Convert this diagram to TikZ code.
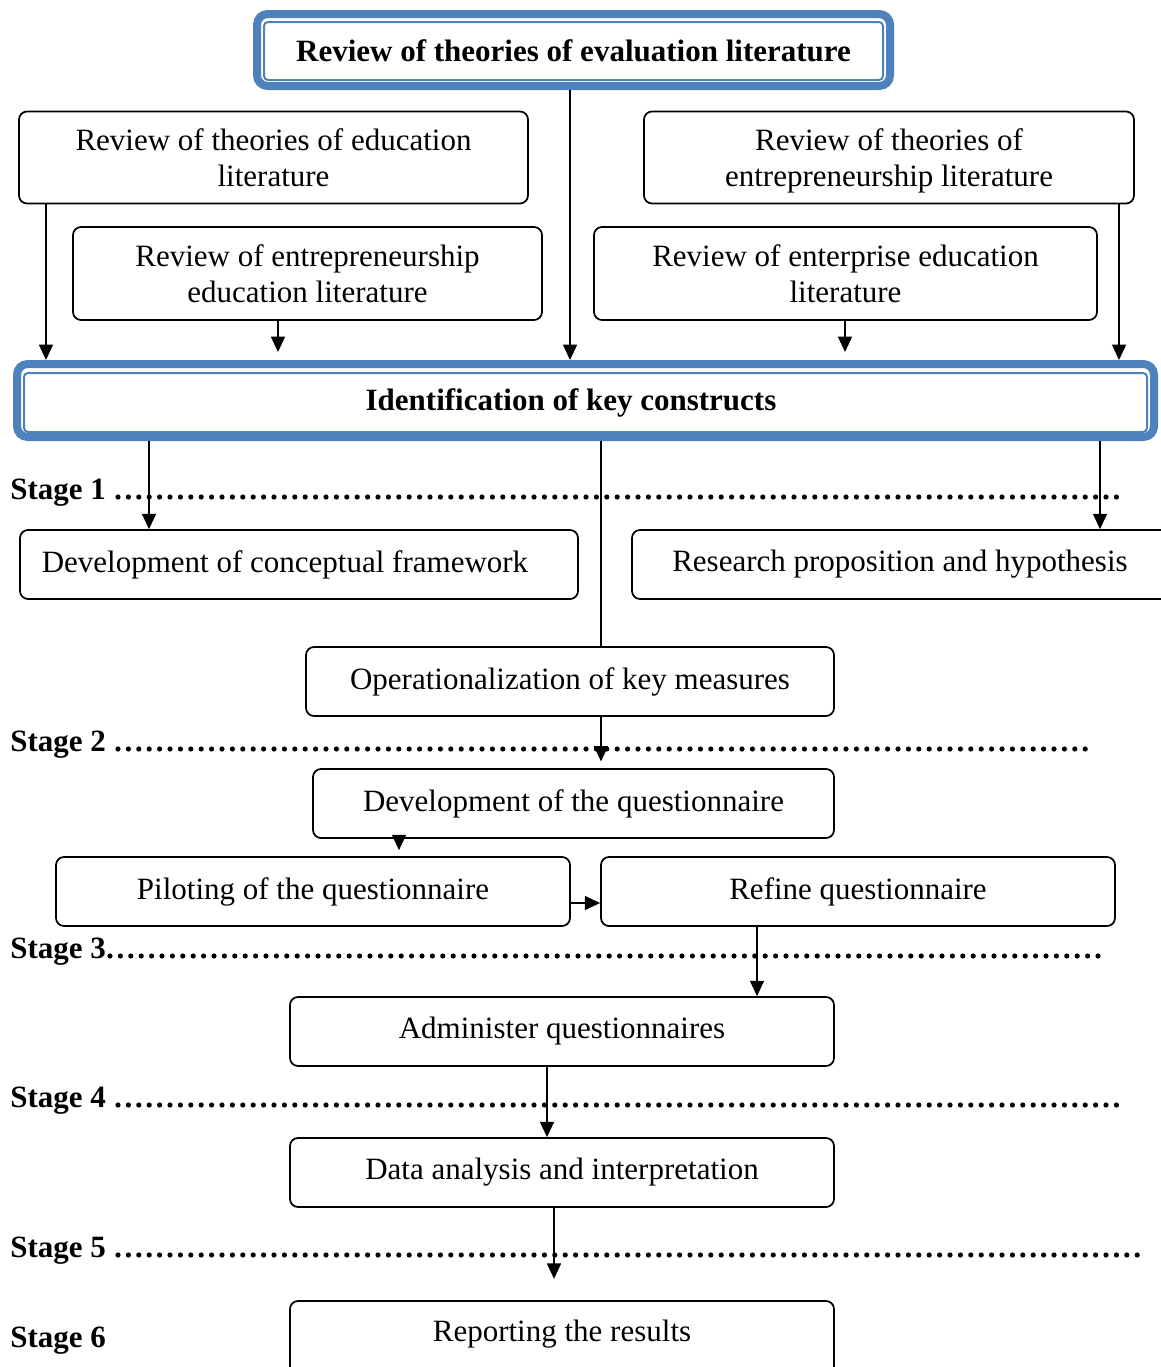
\documentclass[tikz,border=0pt]{standalone}
\usepackage{fontspec}
\setmainfont{Liberation Serif}
\usetikzlibrary{arrows.meta,calc}
\definecolor{frameblue}{RGB}{79,129,189}
\begin{document}
\begin{tikzpicture}[x=0.75pt,y=-0.75pt,
  sz/.style 2 args={minimum width=#1*0.75pt, minimum height=#2*0.75pt},
  bodyfont/.style={font=\fontsize{23.25}{27}\selectfont},
  stepbox/.style={draw, line width=1.3pt, rounded corners=6pt, align=center,
    inner sep=0pt, bodyfont},
  frameouter/.style={draw=frameblue, line width=6pt, rounded corners=8pt, inner sep=0pt},
  frameinner/.style={draw=frameblue, line width=1.5pt, rounded corners=3pt, inner sep=0pt,
    align=center, font=\bfseries\fontsize{23.25}{27}\selectfont},
  arr/.style={line width=1.1pt, -{Triangle[length=11.5pt,width=10.5pt]}},
  plainline/.style={line width=1.1pt},
  dotline/.style={line width=3.9pt, line cap=round, dash pattern=on 0pt off 7.8pt},
  stagelabel/.style={anchor=base west, inner sep=0pt, font=\bfseries\fontsize{23.25}{27}\selectfont}
]
\useasboundingbox (0,0) rectangle (1160,1367);

% Top framed box
\node[frameouter, sz={633}{72}] (Tframe) at (573.5,50) {};
\node[frameinner, sz={619}{58}] (T) at (573.5,51) {Review of theories of evaluation literature};

% Literature review boxes
\node[stepbox, sz={509}{92}, text depth=0pt] (A) at (273.5,157.5) {Review of theories of education\\literature};
\node[stepbox, sz={490}{92}, text depth=0pt] (B) at (889,157.5) {Review of theories of\\entrepreneurship literature};
\node[stepbox, sz={469}{93}, text depth=0pt] (C) at (307.5,273.5) {Review of entrepreneurship\\education literature};
\node[stepbox, sz={503}{93}, text depth=0pt] (D) at (845.5,273.5) {Review of enterprise education\\literature};

% Key constructs framed box
\node[frameouter, sz={1137}{73}] (Iframe) at (585.5,400.5) {};
\node[frameinner, sz={1123}{59}] (I) at (585.5,402.5) {\hspace*{-21.75pt}Identification of key constructs};

% Process boxes
\node[stepbox, sz={558}{69}] (F) at (299,564.5) {\hspace*{-21pt}Development of conceptual framework};
\node[stepbox, sz={548}{69}] (R) at (906,564.5) {\hspace*{-9pt}Research proposition and hypothesis};
\node[stepbox, sz={528}{69}] (O) at (570,681.5) {Operationalization of key measures};
\node[stepbox, sz={521}{69}] (Q) at (573.5,803.5) {Development of the questionnaire};
\node[stepbox, sz={514}{69}] (P) at (313,891.5) {Piloting of the questionnaire};
\node[stepbox, sz={514}{69}] (Rf) at (858,891.5) {Refine questionnaire};
\node[stepbox, sz={544}{69}] (Ad) at (562,1031.5) {Administer questionnaires};
\node[stepbox, sz={544}{69}] (Da) at (562,1172.5) {Data analysis and interpretation};
\node[stepbox, sz={544}{79}, label={[bodyfont, yshift=5pt]center:Reporting the results}] (Rp) at (562,1340.5) {};

% Stage labels and separators
\node[stagelabel] (S1) at (10,499) {Stage 1};
\node[stagelabel] (S2) at (10,751) {Stage 2};
\node[stagelabel] (S3) at (10,958) {Stage 3};
\node[stagelabel] (S4) at (10,1107) {Stage 4};
\node[stagelabel] (S5) at (10,1257) {Stage 5};
\node[stagelabel] (S6) at (10,1347) {Stage 6};
\draw[dotline] (118,497) -- (1125,497);
\draw[dotline] (118,749) -- (1093,749);
\draw[dotline] (110,956) -- (1108,956);
\draw[dotline] (118,1105) -- (1125,1105);
\draw[dotline] (118,1255) -- (1138,1255);

% Connectors
\draw[arr] (A.south -| 46,0) -- (Iframe.north -| 46,0);
\draw[arr, shorten >=6pt] (C.south -| 278,0) -- (Iframe.north -| 278,0);
\draw[arr] (Tframe.south -| 570,0) -- (Iframe.north -| 570,0);
\draw[arr, shorten >=6pt] (D.south -| 845,0) -- (Iframe.north -| 845,0);
\draw[arr] (B.south -| 1119,0) -- (Iframe.north -| 1119,0);
\draw[arr] (Iframe.south -| 149,0) -- (F.north -| 149,0);
\draw[arr] (Iframe.south -| 1100,0) -- (R.north -| 1100,0);
\draw[plainline] (Iframe.south -| 601,0) -- (O.north -| 601,0);
\draw[arr, shorten >=5pt] (O.south -| 601,0) -- (Q.north -| 601,0);
\draw[arr, shorten >=4.5pt] (Q.south -| 399,0) -- (P.north -| 399,0);
\draw[arr] (P.east |- 0,903) -- (Rf.west |- 0,903);
\draw[arr] (Rf.south -| 757,0) -- (Ad.north -| 757,0);
\draw[arr] (Ad.south -| 547,0) -- (Da.north -| 547,0);
\draw[arr, shorten >=16pt] (Da.south -| 554,0) -- (Rp.north -| 554,0);
\end{tikzpicture}
\end{document}
